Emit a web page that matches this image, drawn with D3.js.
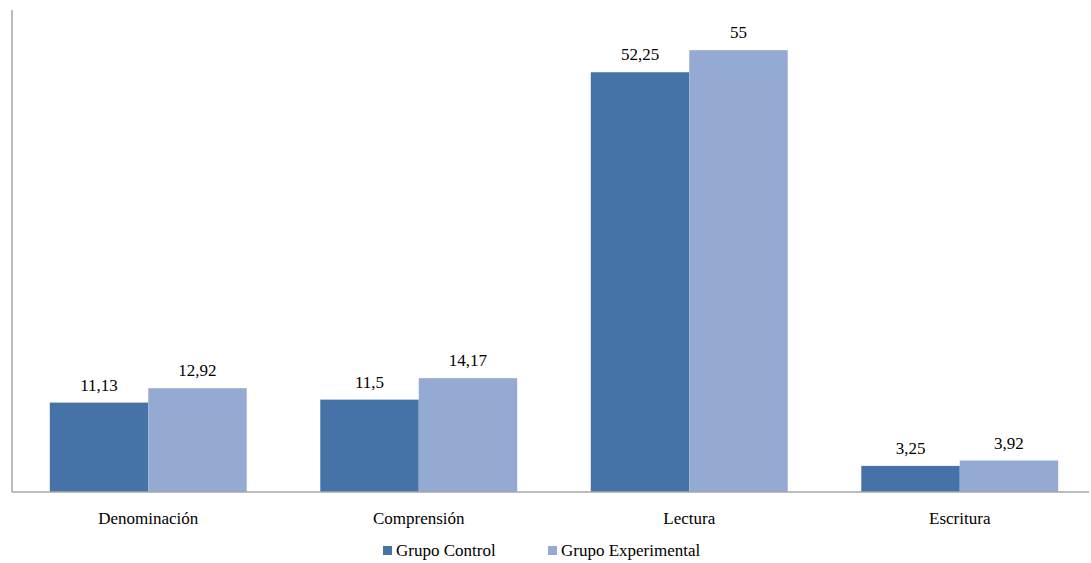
<!DOCTYPE html>
<html>
<head>
<meta charset="utf-8">
<title>Grupo Control vs Grupo Experimental</title>
<style>
body { margin: 0; background: #fff; }
svg text { font-family: "Times New Roman", Times, "Liberation Serif", "DejaVu Serif", "Noto Serif", serif; font-size: 17px; fill: #000; }
</style>
<script src="https://d3js.org/d3.v7.min.js"></script>
</head>
<body>
<svg id="chart" width="1091" height="563"></svg>
<script>
const categories = ["Denominación", "Comprensión", "Lectura", "Escritura"];
const seriesNames = ["Grupo Control", "Grupo Experimental"];
const controlValues = [11.13, 11.5, 52.25, 3.25];
const experimentalValues = [12.92, 14.17, 55, 3.92];
const colors = ["#4573a7", "#95aad2"];

const svg = d3.select("#chart");
const LEFT = 12, RIGHT = 1089, BOTTOM = 492, TOP = 10;

const x0 = d3.scaleBand()
  .domain(categories)
  .range([13, 1095])
  .paddingInner(0.272)
  .paddingOuter(0.136);

const x1 = d3.scaleBand()
  .domain(seriesNames)
  .range([0, x0.bandwidth()]);

const y = d3.scaleLinear()
  .domain([0, 60])
  .range([BOTTOM, TOP]);

const rows = categories.map((c, i) => ({
  cat: c,
  vals: [controlValues[i], experimentalValues[i]]
}));

const fmt = v => String(v).replace(".", ",");

const groups = svg.selectAll("g.cat")
  .data(rows)
  .join("g")
  .attr("class", "cat")
  .attr("transform", d => `translate(${x0(d.cat)},0)`);

groups.selectAll("rect")
  .data(d => d.vals.map((v, j) => ({ name: seriesNames[j], v: v, j: j })))
  .join("rect")
  .attr("x", d => x1(d.name))
  .attr("y", d => y(d.v))
  .attr("width", x1.bandwidth())
  .attr("height", d => y(0) - y(d.v))
  .attr("fill", d => colors[d.j]);

groups.selectAll("text.val")
  .data(d => d.vals.map((v, j) => ({ name: seriesNames[j], v: v })))
  .join("text")
  .attr("class", "val")
  .attr("x", d => x1(d.name) + x1.bandwidth() / 2)
  .attr("y", d => y(d.v) - 12)
  .attr("text-anchor", "middle")
  .text(d => fmt(d.v));

// axes lines
svg.append("line")
  .attr("x1", LEFT).attr("x2", LEFT)
  .attr("y1", y(60)).attr("y2", BOTTOM)
  .attr("stroke", "#a6a6a6").attr("stroke-width", 1.5);

svg.append("line")
  .attr("x1", LEFT).attr("x2", RIGHT)
  .attr("y1", BOTTOM).attr("y2", BOTTOM)
  .attr("stroke", "#a6a6a6").attr("stroke-width", 1.5);

// category labels
svg.selectAll("text.cat")
  .data(categories)
  .join("text")
  .attr("class", "cat")
  .attr("x", d => x0(d) + x0.bandwidth() / 2)
  .attr("y", 524)
  .attr("text-anchor", "middle")
  .text(d => d);

// legend
const legendX = [383, 548];
const legend = svg.selectAll("g.leg")
  .data(seriesNames)
  .join("g")
  .attr("class", "leg")
  .attr("transform", (d, i) => `translate(${legendX[i]},546)`);

legend.append("rect")
  .attr("width", 9).attr("height", 9)
  .attr("fill", (d, i) => colors[i]);

legend.append("text")
  .attr("x", 13)
  .attr("y", 10)
  .text(d => d);
</script>
</body>
</html>
